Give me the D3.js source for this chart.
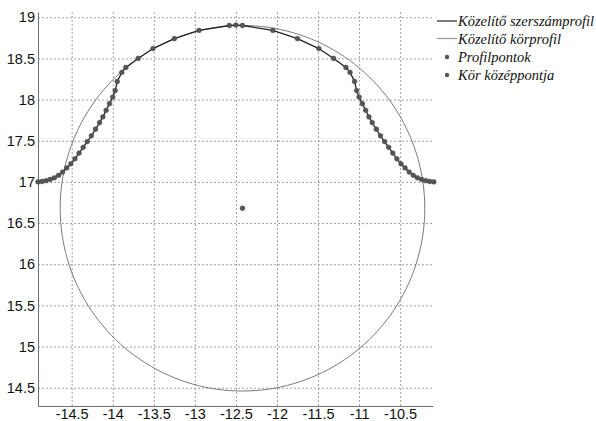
<!DOCTYPE html>
<meta charset="utf-8">
<style>
body { margin: 0; background: #fff; }
.grid line { stroke: #a0a0a0; stroke-width: 1; stroke-dasharray: 2,2; }
.grid path { display: none; }
.axis path { stroke: #707070; }
.axis text { font-family: "Liberation Sans", Arial, sans-serif; font-size: 14.5px; fill: #111; }
.legend text { font-family: "Liberation Serif", "Times New Roman", serif; font-style: italic; font-size: 14.5px; fill: #111; }
</style>
<svg width="596" height="421"></svg>
<script src="https://cdn.jsdelivr.net/npm/d3@7"></script>
<script>

// profile points (x, y)
var profX = [-14.91, -14.86, -14.81, -14.76, -14.71, -14.66, -14.61, -14.56, -14.51, -14.46, -14.41,
  -14.36, -14.31, -14.26, -14.21, -14.16, -14.12, -14.08, -14.04, -14.00, -13.97, -13.945,
  -13.89, -13.84, -13.69, -13.51, -13.25, -12.95, -12.58, -12.50,
  -12.42, -12.05, -11.75, -11.49, -11.31, -11.16, -11.11,
  -11.055, -11.03, -11.00, -10.96, -10.92, -10.88, -10.84, -10.79, -10.74, -10.69, -10.64,
  -10.59, -10.54, -10.49, -10.44, -10.39, -10.34, -10.29, -10.24, -10.19, -10.14, -10.09];
var profY = [17.00, 17.005, 17.015, 17.03, 17.05, 17.08, 17.12, 17.17, 17.22, 17.28, 17.35,
  17.42, 17.49, 17.56, 17.64, 17.72, 17.79, 17.87, 17.95, 18.03, 18.11, 18.22,
  18.33, 18.39, 18.50, 18.62, 18.74, 18.84, 18.90, 18.905,
  18.90, 18.84, 18.74, 18.62, 18.50, 18.39, 18.33,
  18.22, 18.11, 18.03, 17.95, 17.87, 17.79, 17.72, 17.64, 17.56, 17.49, 17.42,
  17.35, 17.28, 17.22, 17.17, 17.12, 17.08, 17.05, 17.03, 17.015, 17.005, 17.00];

// fitted circle
var circleCenter = [-12.42, 16.68];
var circleRadius = 2.22;

var xTicks = [-14.5, -14, -13.5, -13, -12.5, -12, -11.5, -11, -10.5];
var yTicks = [14.5, 15, 15.5, 16, 16.5, 17, 17.5, 18, 18.5, 19];

var legendLabels = ["Közelítő szerszámprofil", "Közelítő körprofil", "Profilpontok", "Kör középpontja"];

var svg = d3.select("svg");
var pLeft = 38, pRight = 433, pTop = 12, pBottom = 406;

var x = d3.scaleLinear().domain([-14.91, -10.10]).range([pLeft, pRight]);
var y = d3.scaleLinear().domain([14.278, 19.064]).range([pBottom, pTop]);

// grid
svg.append("g")
    .attr("class", "grid")
    .attr("transform", "translate(0," + pBottom + ")")
    .call(d3.axisBottom(x).tickValues(xTicks).tickSize(-(pBottom - pTop)).tickFormat(""));
svg.append("g")
    .attr("class", "grid")
    .attr("transform", "translate(" + pLeft + ",0)")
    .call(d3.axisLeft(y).tickValues(yTicks).tickSize(-(pRight - pLeft)).tickFormat(""));

// axes
svg.append("g")
    .attr("class", "axis")
    .attr("transform", "translate(0," + pBottom + ")")
    .call(d3.axisBottom(x).tickValues(xTicks).tickSize(0).tickPadding(3).tickFormat(function(d) { return String(d); }))
    .call(function(g) { g.selectAll(".tick line").remove(); });
svg.append("g")
    .attr("class", "axis")
    .attr("transform", "translate(" + pLeft + ",0)")
    .call(d3.axisLeft(y).tickValues(yTicks).tickSize(0).tickPadding(3).tickFormat(function(d) { return String(d); }))
    .call(function(g) { g.selectAll(".tick line").remove(); });
svg.selectAll(".axis text").attr("fill", "#111");

var plot = svg.append("g");

// circle
var angles = d3.range(0, 361, 2);
var circleLine = d3.line()
    .x(function(a) { return x(circleCenter[0] + circleRadius * Math.cos(a * Math.PI / 180)); })
    .y(function(a) { return y(circleCenter[1] + circleRadius * Math.sin(a * Math.PI / 180)); });
plot.append("path")
    .attr("d", circleLine(angles))
    .attr("fill", "none")
    .attr("stroke", "#7a7a7a")
    .attr("stroke-width", 1);

// profile
var pts = profX.map(function(v, i) { return [v, profY[i]]; });
plot.append("path")
    .attr("d", d3.line().x(function(d) { return x(d[0]); }).y(function(d) { return y(d[1]); })(pts))
    .attr("fill", "none")
    .attr("stroke", "#222")
    .attr("stroke-width", 1.3);

plot.selectAll("circle.pt")
    .data(pts)
    .enter().append("circle")
    .attr("class", "pt")
    .attr("cx", function(d) { return x(d[0]); })
    .attr("cy", function(d) { return y(d[1]); })
    .attr("r", 2.4)
    .attr("fill", "#555")
    .attr("stroke", "#444")
    .attr("stroke-width", 0.5);

plot.append("circle")
    .attr("cx", x(circleCenter[0]))
    .attr("cy", y(circleCenter[1]))
    .attr("r", 2.4)
    .attr("fill", "#555")
    .attr("stroke", "#444")
    .attr("stroke-width", 0.5);

// legend
var legend = svg.append("g").attr("class", "legend").attr("transform", "translate(437,0)");
var rowY = [21, 38.5, 57, 75];
legend.selectAll("text")
    .data(legendLabels)
    .enter().append("text")
    .attr("x", 21)
    .attr("y", function(d, i) { return rowY[i] + 5; })
    .text(function(d) { return d; });
legend.append("line").attr("x1", 0).attr("x2", 20).attr("y1", rowY[0]).attr("y2", rowY[0])
    .attr("stroke", "#333").attr("stroke-width", 1.3);
legend.append("line").attr("x1", 0).attr("x2", 20).attr("y1", rowY[1]).attr("y2", rowY[1])
    .attr("stroke", "#999").attr("stroke-width", 1.3);
legend.append("circle").attr("cx", 10).attr("cy", rowY[2]).attr("r", 2.2).attr("fill", "#555");
legend.append("circle").attr("cx", 10).attr("cy", rowY[3]).attr("r", 2.2).attr("fill", "#555");

</script>
